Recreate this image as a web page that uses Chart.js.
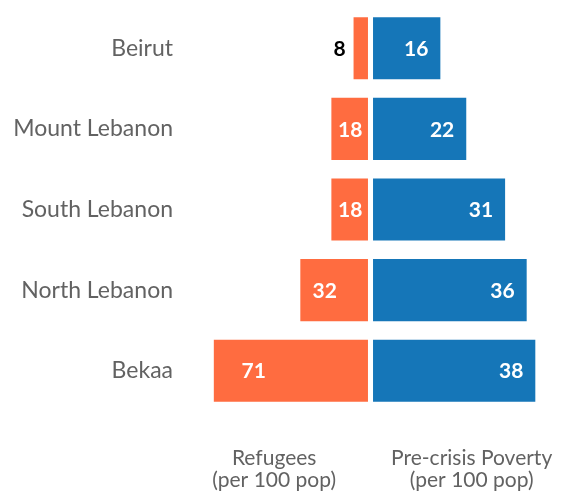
<!DOCTYPE html>
<html>
<head>
<meta charset="utf-8">
<script src="https://cdn.jsdelivr.net/npm/chart.js@4"></script>
<style>
html, body { margin: 0; padding: 0; background: #ffffff; overflow: hidden; }
#wrap { width: 561px; height: 491px; overflow: hidden; position: relative; }
canvas { display: block; }
</style>
</head>
<body>
<div id="wrap"><canvas id="c" width="572" height="491"></canvas></div>
<script>
// ---- data ----
const regions = ['Beirut', 'Mount Lebanon', 'South Lebanon', 'North Lebanon', 'Bekaa'];
const refugees = [8, 18, 18, 32, 71];
const poverty = [16, 22, 31, 36, 38];
const refugeesTitle = ['Refugees', '(per 100 pop)'];
const povertyTitle = ['Pre-crisis Poverty', '(per 100 pop)'];

const ORANGE = '#FF6C40';
const BLUE = '#1576B8';
const GRAY = '#626262';
const FONT = 'Lato';

const barLabels = {
  id: 'barLabels',
  afterDatasetsDraw(chart) {
    const ctx = chart.ctx;
    ctx.save();
    ctx.font = 'bold 21px ' + FONT;
    ctx.textBaseline = 'middle';
    chart.data.datasets.forEach((ds, di) => {
      const meta = chart.getDatasetMeta(di);
      meta.data.forEach((bar, i) => {
        const txt = String(ds.data[i]);
        const w = ctx.measureText(txt).width;
        const len = Math.abs(bar.base - bar.x);
        const y = bar.y + 1;
        if (di === 0) {
          if (len < w + 10) {
            ctx.fillStyle = '#000000';
            ctx.textAlign = 'right';
            ctx.fillText(txt, bar.x - 8, y);
          } else {
            ctx.fillStyle = '#ffffff';
            ctx.textAlign = 'left';
            ctx.fillText(txt, bar.x + 0.18 * len, y);
          }
        } else {
          ctx.fillStyle = '#ffffff';
          ctx.textAlign = 'right';
          ctx.fillText(txt, bar.x - 12, y);
        }
      });
    });
    ctx.restore();
  }
};

const hiddenAxisBits = {
  grid: { display: false, drawTicks: false },
  border: { display: false },
  ticks: { display: false }
};

new Chart(document.getElementById('c'), {
  type: 'bar',
  data: {
    labels: regions,
    datasets: [
      {
        label: 'Refugees',
        data: refugees,
        backgroundColor: ORANGE,
        xAxisID: 'xL',
        yAxisID: 'y',
        base: 1.5,
        grouped: false,
        barPercentage: 0.77,
        categoryPercentage: 1
      },
      {
        label: 'Pre-crisis Poverty',
        data: poverty,
        backgroundColor: BLUE,
        xAxisID: 'xR',
        yAxisID: 'y',
        base: 0.4,
        grouped: false,
        barPercentage: 0.77,
        categoryPercentage: 1
      }
    ]
  },
  options: {
    indexAxis: 'y',
    responsive: false,
    animation: false,
    devicePixelRatio: 1,
    layout: { padding: { top: 8, right: 0, bottom: 0, left: 0 } },
    plugins: {
      legend: { display: false },
      tooltip: { enabled: false },
      title: { display: false }
    },
    scales: {
      y: {
        type: 'category',
        position: 'left',
        grid: { display: false, drawTicks: false },
        border: { display: false },
        ticks: { font: { family: FONT, size: 23 }, color: GRAY, padding: 4 },
        afterFit(s) { s.width = 177; s.paddingTop = 0; s.paddingBottom = 0; }
      },
      xL: Object.assign({}, hiddenAxisBits, {
        type: 'linear',
        position: 'bottom',
        stack: 'bottomStack',
        stackWeight: 194.3,
        reverse: true,
        min: 0,
        max: 87.6,
        title: {
          display: true,
          text: refugeesTitle,
          color: GRAY,
          font: { family: FONT, size: 21, lineHeight: '22px' },
          padding: { top: 36, bottom: 0 }
        }
      }),
      xR: Object.assign({}, hiddenAxisBits, {
        type: 'linear',
        position: 'bottom',
        stack: 'bottomStack',
        stackWeight: 200.7,
        min: 0,
        max: 46.5,
        title: {
          display: true,
          text: povertyTitle,
          color: GRAY,
          font: { family: FONT, size: 21, lineHeight: '22px' },
          padding: { top: 36, bottom: 0 }
        }
      })
    }
  },
  plugins: [barLabels]
});
</script>
</body>
</html>
